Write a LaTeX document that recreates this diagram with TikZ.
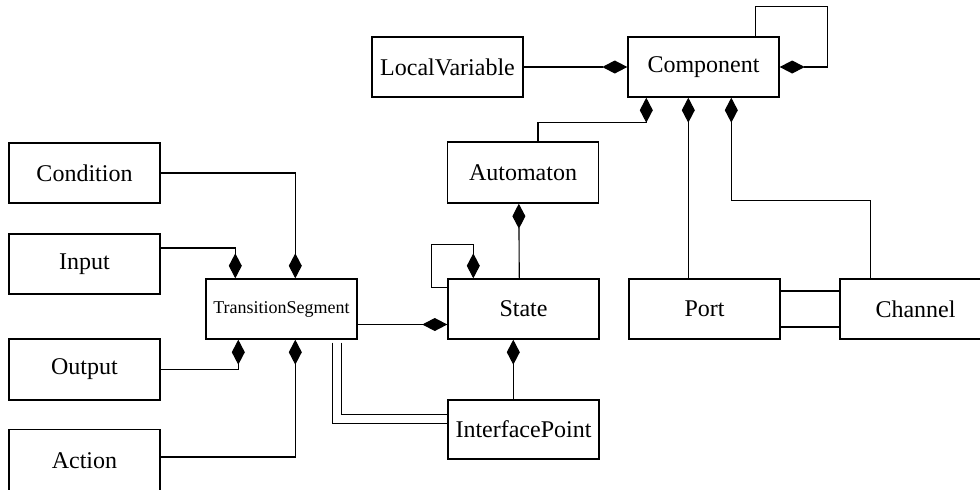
\documentclass[tikz,border=0pt]{standalone}
\usepackage{fontspec}
\setmainfont{Liberation Serif}
\usetikzlibrary{arrows.meta,calc}
\begin{document}
\begin{tikzpicture}[x=0.5pt,y=-0.5pt,
  cls/.style={draw,line width=0.7pt,minimum width=75.5pt,minimum height=30pt,inner sep=0pt,font=\fontsize{12}{14}\selectfont},
  conn/.style={line width=0.55pt},
  comp/.style={conn,-{Diamond[length=12.5pt,width=6.5pt]}}]
\useasboundingbox (0,0) rectangle (980,489);
\clip (0,0) rectangle (980,489);
\node[cls] (LV) at (447.5,67) {LocalVariable};
\node[cls] (Comp) at (703.5,67) {Component};
\node[cls,minimum height=30.5pt] (Auto) at (523,172.5) {Automaton};
\node[cls] (Cond) at (84.5,173) {Condition};
\node[cls] (Input) at (84.5,264) {Input};
\node[cls,font=\fontsize{9}{11}\selectfont] (TS) at (281.5,309) {TransitionSegment};
\node[cls] (State) at (523.5,309) {State};
\node[cls] (Port) at (704.5,309) {Port};
\node[cls] (Chan) at (915.5,309) {Channel};
\node[cls,minimum height=30.5pt] (Output) at (84.5,369.5) {Output};
\node[cls,minimum height=31pt] (Action) at (84.5,460.5) {Action};
\node[cls,minimum height=29.5pt] (IP) at (523.5,429.5) {InterfacePoint};
% Component
\draw[comp] (LV.east) -- (Comp.west);
\draw[comp] ($(Comp.north west)+(128,0)$) -- ++(0,-30) -- ++(72,0) |- (Comp.east);
\draw[comp] ($(Auto.north)+(15,0)$) |- ($(Comp.south west)+(19,25)$) -- ($(Comp.south west)+(19,0)$);
\draw[comp] ($(Port.north west)+(60,0)$) -- ($(Comp.south west)+(61,0)$);
\draw[comp] ($(Chan.north west)+(31,0)$) |- ($(Comp.south west)+(104,103)$) -- ($(Comp.south west)+(104,0)$);
\draw[conn] ($(Port.east)+(0,-18)$) -- ($(Chan.west)+(0,-18)$);
\draw[conn] ($(Port.east)+(0,18)$) -- ($(Chan.west)+(0,18)$);
% State
\draw[comp] ($(State.north west)+(72,0)$) -- ($(Auto.south west)+(72,0)$);
\draw[comp] ($(State.north west)+(0,9)$) -- ++(-16,0) |- ($(State.north west)+(26,-34)$) -- ($(State.north west)+(26,0)$);
\draw[comp] ($(TS.east)+(0,15.5)$) -- ($(State.west)+(0,15.5)$);
\draw[comp] ($(IP.north west)+(66,0)$) -- ($(State.south west)+(66,0)$);
\draw[conn] ($(TS.south west)+(127,3)$) |- ($(IP.north west)+(0,24)$);
\draw[conn] ($(TS.south west)+(136,3)$) |- ($(IP.north west)+(0,15)$);
% TransitionSegment
\draw[comp] (Cond.east) -| ($(TS.north west)+(90,0)$);
\draw[comp] ($(Input.east)+(0,-16)$) -| ($(TS.north west)+(30,0)$);
\draw[comp] (Output.east) -| ($(TS.south west)+(33,0)$);
\draw[comp] ($(Action.east)+(0,-3.5)$) -| ($(TS.south west)+(90,0)$);
\end{tikzpicture}
\end{document}
